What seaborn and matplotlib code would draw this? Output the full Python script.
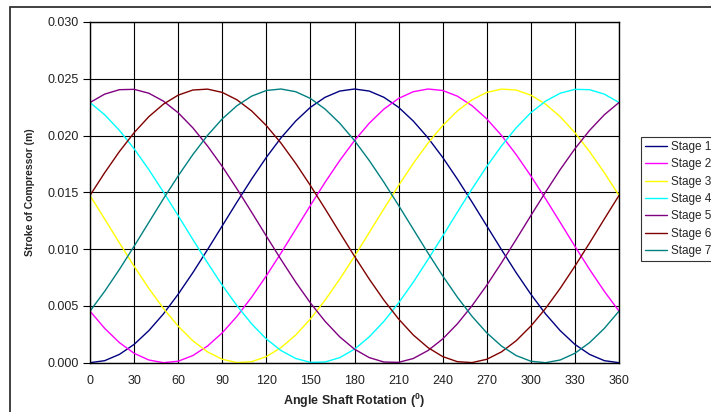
import matplotlib
matplotlib.use("Agg")
import matplotlib.pyplot as plt
from matplotlib.patches import Rectangle
import seaborn as sns
import pandas as pd

angles = list(range(0, 361, 10))

stage_names = ["Stage 1", "Stage 2", "Stage 3", "Stage 4", "Stage 5", "Stage 6", "Stage 7"]

stage1 = [0.00000, 0.00018, 0.00073, 0.00161, 0.00282, 0.00430, 0.00603, 0.00793, 0.00996, 0.01205,
          0.01414, 0.01617, 0.01808, 0.01980, 0.02128, 0.02249, 0.02337, 0.02392, 0.02410, 0.02392,
          0.02337, 0.02249, 0.02128, 0.01980, 0.01808, 0.01617, 0.01414, 0.01205, 0.00996, 0.00793,
          0.00603, 0.00430, 0.00282, 0.00161, 0.00073, 0.00018, 0.00000]
stage2 = [0.00454, 0.00302, 0.00177, 0.00083, 0.00024, 0.00000, 0.00013, 0.00063, 0.00147, 0.00263,
          0.00408, 0.00577, 0.00765, 0.00966, 0.01175, 0.01385, 0.01589, 0.01781, 0.01956, 0.02108,
          0.02233, 0.02327, 0.02386, 0.02410, 0.02397, 0.02347, 0.02263, 0.02147, 0.02002, 0.01833,
          0.01645, 0.01444, 0.01235, 0.01025, 0.00821, 0.00629, 0.00454]
stage3 = [0.01473, 0.01265, 0.01055, 0.00850, 0.00655, 0.00477, 0.00322, 0.00193, 0.00095, 0.00030,
          0.00001, 0.00009, 0.00054, 0.00133, 0.00244, 0.00385, 0.00551, 0.00737, 0.00937, 0.01145,
          0.01355, 0.01560, 0.01755, 0.01933, 0.02088, 0.02217, 0.02315, 0.02380, 0.02409, 0.02401,
          0.02356, 0.02277, 0.02166, 0.02025, 0.01859, 0.01673, 0.01473]
stage4 = [0.02291, 0.02183, 0.02046, 0.01884, 0.01701, 0.01502, 0.01295, 0.01085, 0.00879, 0.00682,
          0.00502, 0.00342, 0.00209, 0.00107, 0.00037, 0.00003, 0.00006, 0.00045, 0.00119, 0.00227,
          0.00364, 0.00526, 0.00709, 0.00908, 0.01115, 0.01325, 0.01531, 0.01728, 0.01908, 0.02068,
          0.02201, 0.02303, 0.02373, 0.02407, 0.02404, 0.02365, 0.02291]
stage5 = [0.02291, 0.02365, 0.02404, 0.02407, 0.02373, 0.02303, 0.02201, 0.02068, 0.01908, 0.01728,
          0.01531, 0.01325, 0.01115, 0.00908, 0.00709, 0.00526, 0.00364, 0.00227, 0.00119, 0.00045,
          0.00006, 0.00003, 0.00037, 0.00107, 0.00209, 0.00342, 0.00502, 0.00682, 0.00879, 0.01085,
          0.01295, 0.01502, 0.01701, 0.01884, 0.02046, 0.02183, 0.02291]
stage6 = [0.01473, 0.01673, 0.01859, 0.02025, 0.02166, 0.02277, 0.02356, 0.02401, 0.02409, 0.02380,
          0.02315, 0.02217, 0.02088, 0.01933, 0.01755, 0.01560, 0.01355, 0.01145, 0.00937, 0.00737,
          0.00551, 0.00385, 0.00244, 0.00133, 0.00054, 0.00009, 0.00001, 0.00030, 0.00095, 0.00193,
          0.00322, 0.00477, 0.00655, 0.00850, 0.01055, 0.01265, 0.01473]
stage7 = [0.00454, 0.00629, 0.00821, 0.01025, 0.01235, 0.01444, 0.01645, 0.01833, 0.02002, 0.02147,
          0.02263, 0.02347, 0.02397, 0.02410, 0.02386, 0.02327, 0.02233, 0.02108, 0.01956, 0.01781,
          0.01589, 0.01385, 0.01175, 0.00966, 0.00765, 0.00577, 0.00408, 0.00263, 0.00147, 0.00063,
          0.00013, 0.00000, 0.00024, 0.00083, 0.00177, 0.00302, 0.00454]

x_ticks = list(range(0, 361, 30))
y_ticks = [0.000, 0.005, 0.010, 0.015, 0.020, 0.025, 0.030]

colors = ["#000080", "#FF00FF", "#FFFF00", "#00FFFF", "#800080", "#800000", "#008080"]

series = [stage1, stage2, stage3, stage4, stage5, stage6, stage7]
rows = []
for name, vals in zip(stage_names, series):
    for a, v in zip(angles, vals):
        rows.append({"angle": a, "stroke": v, "stage": name})
df = pd.DataFrame(rows)

sns.set_style("white")
plt.rcParams["font.family"] = ["Liberation Sans", "DejaVu Sans"]
plt.rcParams["mathtext.fontset"] = "custom"
plt.rcParams["mathtext.rm"] = "Liberation Sans:bold"
plt.rcParams["mathtext.bf"] = "Liberation Sans:bold"

fig = plt.figure(figsize=(7.11, 4.12), dpi=100)
fig.patch.set_facecolor("white")
ax = fig.add_axes([90 / 711, 1 - 362.7 / 412, (619 - 90) / 711, (362.7 - 22) / 412])

sns.lineplot(data=df, x="angle", y="stroke", hue="stage", palette=colors,
             linewidth=1.0, ax=ax, legend=True, sort=False)

ax.set_xlim(0, 360)
ax.set_ylim(0, 0.030)
ax.set_xticks(x_ticks)
ax.set_yticks(y_ticks)
ax.set_yticklabels([f"{v:.3f}" for v in y_ticks])
ax.grid(True, color="black", linewidth=0.8)
ax.set_axisbelow(True)
for s in ax.spines.values():
    s.set_color("black")
    s.set_linewidth(1.0)
ax.tick_params(axis="y", which="both", direction="out", length=5, width=0.8,
               colors="black", labelsize=9, pad=3, left=True)
ax.tick_params(axis="x", which="both", direction="out", length=0, labelsize=9, pad=9,
               colors="black")
for lab in ax.get_xticklabels() + ax.get_yticklabels():
    lab.set_color("#222222")

ax.set_xlabel(r"Angle Shaft Rotation ($\mathregular{^0}$)", fontsize=9, fontweight="bold",
              labelpad=3)
ax.set_ylabel("Stroke of Compressor (m)", fontsize=7.5, fontweight="bold", labelpad=9)

handles, labels = ax.get_legend_handles_labels()
ax.get_legend().remove()
leg = fig.legend(handles, labels, loc="upper left", bbox_to_anchor=(641 / 711, 1 - 137 / 412),
                 frameon=True, fancybox=False, shadow=False, fontsize=8.5,
                 borderaxespad=0, borderpad=0.32, labelspacing=0.46, handlelength=1.9,
                 handletextpad=0.3)
leg.get_frame().set_edgecolor("black")
leg.get_frame().set_linewidth(0.8)

border = Rectangle((10 / 711, -0.05), 1.2, 1 - 7 / 412 + 0.05, transform=fig.transFigure,
                   fill=False, edgecolor="#333333", linewidth=1.3, clip_on=False)
fig.patches.append(border)

fig.savefig("out.png", dpi=100)
